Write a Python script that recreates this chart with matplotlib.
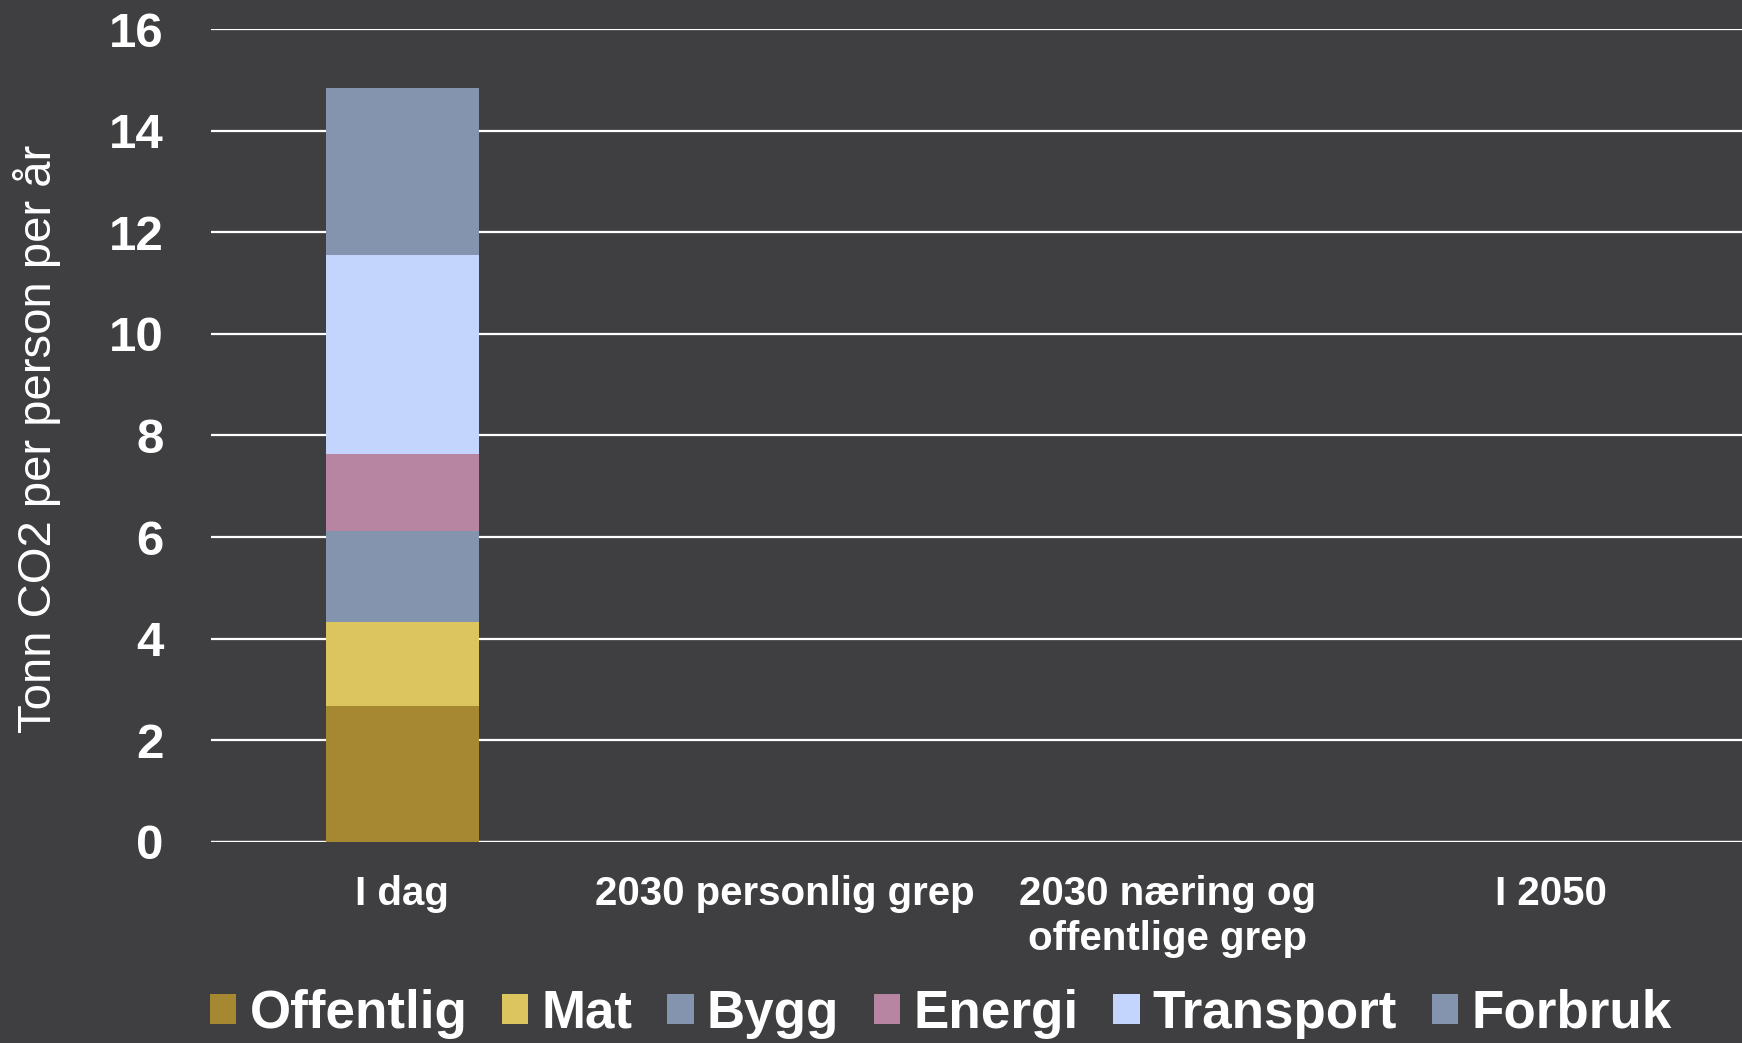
import numpy as np
import matplotlib.pyplot as plt
from matplotlib.patches import Patch

# data
categories = ['I dag', '2030 personlig grep', '2030 næring og\noffentlige grep', 'I 2050']
series = ['Offentlig', 'Mat', 'Bygg', 'Energi', 'Transport', 'Forbruk']
values = {
    'Offentlig': [2.68, 0, 0, 0],
    'Mat':       [1.65, 0, 0, 0],
    'Bygg':      [1.79, 0, 0, 0],
    'Energi':    [1.51, 0, 0, 0],
    'Transport': [3.92, 0, 0, 0],
    'Forbruk':   [3.30, 0, 0, 0],
}
colors = ['#A68732', '#DCC45E', '#8493AE', '#B784A1', '#C3D5FD', '#8493AE']
yticks = [0, 2, 4, 6, 8, 10, 12, 14, 16]

bg = '#3F3F42'

fig = plt.figure(figsize=(17.42, 10.43), dpi=100, facecolor=bg)
ax = fig.add_axes([0.121, 0.193, 0.879, 0.779], facecolor=bg)

x = np.arange(len(categories))
bottom = np.zeros(len(categories))
for name, c in zip(series, colors):
    v = np.array(values[name])
    ax.bar(x, v, bottom=bottom, width=0.4, color=c, zorder=3, label=name)
    bottom += v

ax.set_xlim(-0.5, len(categories) - 0.5)
ax.set_ylim(0, 16)
ax.set_yticks(yticks)
ax.yaxis.grid(True, color='white', linewidth=1.6, zorder=1)
ax.set_axisbelow(True)
for s in ax.spines.values():
    s.set_visible(False)
ax.tick_params(axis='both', length=0, colors='white')
ax.tick_params(axis='y', pad=34)
ax.tick_params(axis='x', pad=24)

ax.set_yticklabels([str(t) for t in yticks], fontsize=35.5, fontweight='bold',
                   family='Liberation Sans', color='white')
ax.set_xticks(x)
ax.set_xticklabels(categories, fontsize=29, fontweight='bold',
                   family='Liberation Sans', color='white', linespacing=1.22)
ax.axhline(0, color='white', linewidth=1.6, zorder=2)

fig.text(0.021, 0.579, 'Tonn CO2 per person per år', rotation=90, ha='center', va='center',
         fontsize=34, color='white', family='Liberation Sans')

handles = [Patch(facecolor=c, label=n) for n, c in zip(series, colors)]
leg = fig.legend(handles=handles, loc='center', ncol=6, frameon=False,
                 bbox_to_anchor=(0.54, 0.028), handlelength=0.5, handleheight=0.5,
                 handletextpad=0.25, columnspacing=0.65, borderpad=0,
                 prop={'family': 'Liberation Sans', 'weight': 'bold', 'size': 38.2})
for t in leg.get_texts():
    t.set_color('white')

fig.savefig('out.png', dpi=100, facecolor=bg)
